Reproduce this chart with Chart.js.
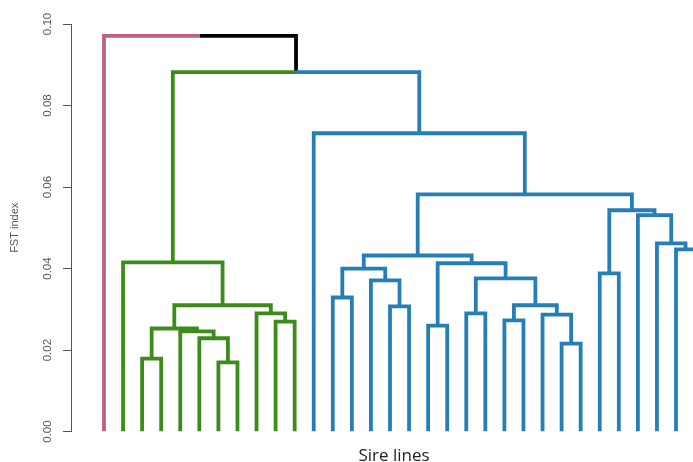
<!DOCTYPE html>
<html>
<head>
<meta charset="utf-8">
<script src="https://cdn.jsdelivr.net/npm/chart.js@4/dist/chart.umd.min.js"></script>
<style>
  html, body { margin: 0; padding: 0; background: #fff; overflow: hidden; }
  /* the original plot runs past the right edge of the picture, so the canvas is wider than the window */
  #wrap { width: 717px; height: 462px; }
</style>
</head>
<body>
<div id="wrap"><canvas id="dendro"></canvas></div>

<script>
// leaves in plotted order: 1 pink, 10 green, 21 blue sire lines
var leafGroup = ['pink',
  'green','green','green','green','green','green','green','green','green','green',
  'blue','blue','blue','blue','blue','blue','blue','blue','blue','blue','blue',
  'blue','blue','blue','blue','blue','blue','blue','blue','blue','blue'];

// hclust style merge table: negative = leaf (1-based), positive = earlier merge row
var mergeLeft  = [-3, -7, -6, -5, 1, -10, -9, 5, -2,
                  -13, -16, -15, 10, -18, -20, -22, -25, -24, 16, 15, 14, 13,
                  -27, -31, -30, -29, 23, 22, -12,
                  9, -1];
var mergeRight = [-4, -8, 2, 3, 4, -11, 6, 7, 8,
                  -14, -17, 11, 12, -19, -21, -23, -26, 17, 18, 19, 20, 21,
                  -28, -32, 24, 25, 26, 27, 28,
                  29, 30];
var mergeHeight = [0.0179, 0.0170, 0.0229, 0.0246, 0.0253, 0.0270, 0.0290, 0.0310, 0.0415,
                   0.0329, 0.0307, 0.0371, 0.0400, 0.0260, 0.0290, 0.0273, 0.0216, 0.0287, 0.0310, 0.0376, 0.0413, 0.0432,
                   0.0388, 0.0447, 0.0462, 0.0531, 0.0543, 0.0582, 0.0732,
                   0.0882, 0.0971];

var yTicks = [0, 0.02, 0.04, 0.06, 0.08, 0.10];

var groupColors = {
  pink: 'rgb(192, 96, 128)',
  green: 'rgb(60, 140, 26)',
  blue: 'rgb(38, 126, 182)',
  mixed: 'rgb(0, 0, 0)'
};

// position, height and group of a node (leaf or merge)
function nodeInfo(id) {
  if (id < 0) {
    var i = -id - 1;
    return { x: i, h: 0, group: leafGroup[i] };
  }
  var r = id - 1;
  var a = nodeInfo(mergeLeft[r]);
  var b = nodeInfo(mergeRight[r]);
  return { x: (a.x + b.x) / 2, h: mergeHeight[r], group: a.group == b.group ? a.group : 'mixed' };
}

var segs = { pink: [], green: [], blue: [], mixed: [] };

for (let r = 0; r < mergeHeight.length; r++) {
  var p = nodeInfo(r + 1);
  [mergeLeft[r], mergeRight[r]].forEach(function (c) {
    var n = nodeInfo(c);
    segs[n.group].push({ x: p.x, y: p.h }, { x: n.x, y: p.h }, { x: n.x, y: n.h }, { x: n.x, y: null });
  });
}

var sets = Object.keys(segs).map(function (g) {
  return {
    label: g,
    data: segs[g],
    borderColor: groupColors[g],
    borderWidth: 3.8,
    borderCapStyle: 'butt',
    borderJoinStyle: 'miter',
    pointRadius: 0,
    fill: false,
    tension: 0,
    spanGaps: false
  };
});

var axisGrey = '#555';

new Chart(document.getElementById('dendro'), {
  type: 'line',
  data: { datasets: sets },
  options: {
    responsive: true,
    maintainAspectRatio: false,
    animation: false,
    events: [],
    layout: { padding: { top: 24, right: 0, bottom: 0, left: 0 } },
    plugins: { legend: { display: false }, tooltip: { enabled: false } },
    scales: {
      x: {
        type: 'linear',
        min: -1.73,
        max: 32.15,
        ticks: { display: false },
        grid: { display: false, drawTicks: false },
        border: { display: false },
        title: {
          display: true,
          text: 'Sire lines',
          color: '#222',
          font: { family: 'Open Sans', size: 17 },
          padding: { top: 14, bottom: -4 }
        }
      },
      y: {
        min: 0,
        max: 0.1,
        afterFit: function (scale) { scale.width = 71; },
        afterBuildTicks: function (scale) { scale.ticks = yTicks.map(function (v) { return { value: v }; }); },
        ticks: {
          callback: function (v) { return v.toFixed(2); },
          minRotation: 90,
          maxRotation: 90,
          crossAlign: 'center',
          padding: 4,
          color: axisGrey,
          font: { family: 'Liberation Sans', size: 11.5 }
        },
        grid: { drawOnChartArea: false, drawTicks: true, tickLength: 8, color: axisGrey, lineWidth: 1 },
        border: { display: true, color: axisGrey, width: 1 },
        title: {
          display: true,
          text: 'FST index',
          color: axisGrey,
          font: { family: 'Liberation Sans', size: 11 },
          padding: { top: 8, bottom: 0 }
        }
      }
    }
  }
});
</script>
</body>
</html>
